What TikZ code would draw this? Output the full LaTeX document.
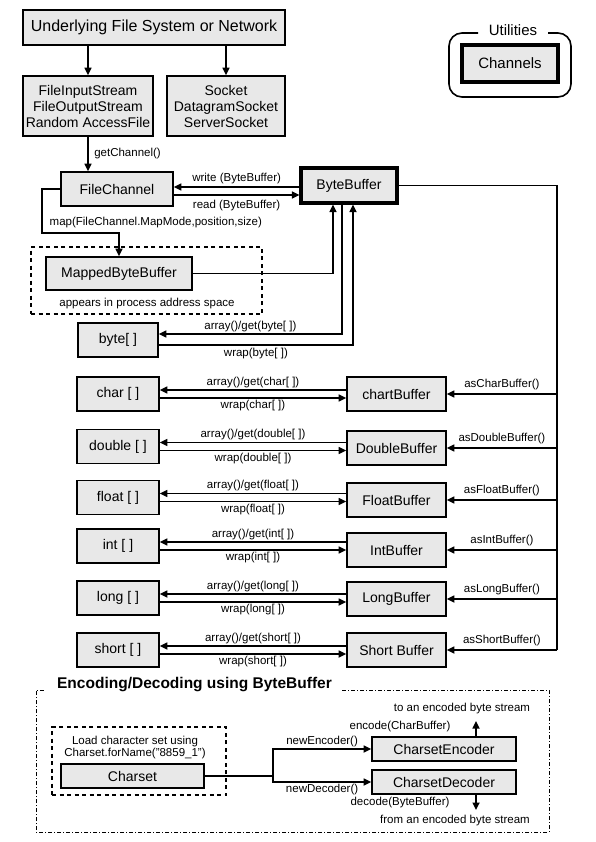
\documentclass[tikz,border=0pt]{standalone}
\usepackage{fontspec}
\setmainfont{Liberation Sans}
\usetikzlibrary{arrows.meta,calc}

\begin{document}
\begin{tikzpicture}[x=1pt, y=-1pt, >={Triangle[length=7.5pt,width=7pt]},
  box/.style = {draw, line width=1.6pt, fill=black!9, inner sep=0pt, align=center, font=\fontsize{14}{16}\selectfont},
  heavy/.style = {box, line width=3.2pt},
  lbl/.style = {font=\fontsize{11.5}{13}\selectfont, inner sep=1.5pt},
  link/.style = {line width=1.6pt},
  dashbox/.style = {draw, line width=1.6pt, dash pattern=on 4pt off 3.5pt}]
\useasboundingbox (0,0) rectangle (595,842);

% sources
\node[box, minimum width=262pt, minimum height=35pt, font=\fontsize{16}{18}\selectfont] (fs) at (154,27.5) {Underlying File System or Network};
\node[box, minimum width=130pt, minimum height=60pt] (streams) at (88,106) {FileInputStream\\FileOutputStream\\Random AccessFile};
\node[box, minimum width=118pt, minimum height=60pt] (sockets) at (226,106) {Socket\\DatagramSocket\\ServerSocket};
\draw[link, ->] (fs.south -| streams.north) -- (streams.north);
\draw[link, ->] (fs.south -| sockets.north) -- (sockets.north);

% channel and buffer
\node[box, minimum width=112pt, minimum height=34pt] (fc) at (117,189) {FileChannel};
\node[heavy, minimum width=96pt, minimum height=35pt] (bb) at (349,185.5) {ByteBuffer};
\draw[link, ->] (streams.south) -- (streams.south |- fc.north) node[lbl, midway, right=4pt] {getChannel()};
\draw[link, ->] ($(bb.west)+(0,1.5)$) -- ($(fc.east |- bb.west)+(0,1.5)$) node[lbl, midway, above=1pt] {write (ByteBuffer)};
\draw[link, ->] ($(fc.east |- bb.west)+(0,9.5)$) -- ($(bb.west)+(0,9.5)$) node[lbl, midway, below=3pt] {read (ByteBuffer)};

% mapped buffer
\node[dashbox, minimum width=231pt, minimum height=67pt] (space) at (146.5,280.5) {};
\node[lbl] (spacenote) at (147,304) {appears in process address space};
\node[box, minimum width=146pt, minimum height=33pt] (mbb) at (119,273.5) {MappedByteBuffer};
\coordinate (mapturn) at (42,233);
\draw[link, ->] (fc.west) -| (mapturn) -| (mbb.north);
\node[lbl, anchor=west] (maplbl) at (48,223) {map(FileChannel.MapMode,position,size)};
\draw[link, ->] (mbb.east) -| ($(bb.south)+(-16,0)$);

% byte array
\node[box, minimum width=80pt, minimum height=34pt] (byte) at (118,340) {byte[ ]};
\draw[link, ->] ($(bb.south)+(-7,0)$) |- ($(byte.east)+(0,-6)$) node[lbl, pos=0.75, above] {array()/get(byte[ ])};
\draw[link, ->] ($(byte.east)+(0,5)$) -| ($(bb.south)+(4,0)$) node[lbl, pos=0.25, below=1pt] {wrap(byte[ ])};

% view buffers
\coordinate (bus) at (557,650);
\draw[link] (bb.east) -| (bus);
\foreach \nm/\arr/\buf/\ya/\yb/\as in {char/char [ ]/chartBuffer/394/394/asCharBuffer(),
    double/double [ ]/DoubleBuffer/446.5/448/asDoubleBuffer(),
    float/float [ ]/FloatBuffer/497.5/500/asFloatBuffer(),
    int/int [ ]/IntBuffer/546/550/asIntBuffer(),
    long/long [ ]/LongBuffer/598/599/asLongBuffer(),
    short/short [ ]/Short Buffer/650/650/asShortBuffer()} {
  \node[box, minimum width=82pt, minimum height=34pt] (a\nm) at (118,\ya) {\arr};
  \node[box, minimum width=99pt, minimum height=34pt] (b\nm) at (396.5,\yb) {\buf};
  \draw[link, ->] ($(b\nm.west |- a\nm.east)+(0,-4)$) -- ($(a\nm.east)+(0,-4)$) node[lbl, midway, above] {array()/get(\nm[ ])};
  \draw[link, ->] ($(a\nm.east)+(0,4)$) -- ($(b\nm.west |- a\nm.east)+(0,4)$) node[lbl, midway, below] {wrap(\nm[ ])};
  \draw[link, ->] (bus |- b\nm.east) -- (b\nm.east) node[lbl, midway, above=2pt] {\as};
}

% legend
\draw[line width=1.6pt, rounded corners=13pt] (478,33) -- (449,33) -- (449,97) -- (571,97) -- (571,33) -- (548,33);
\node[font=\fontsize{15}{17}\selectfont] (util) at (513,30) {Utilities};
\node[heavy, minimum width=96pt, minimum height=37pt, font=\fontsize{15}{17}\selectfont] (channels) at (510,63.5) {Channels};

% encoding / decoding
\draw[line width=0.8pt, dash pattern=on 4pt off 2pt on 1pt off 2pt] (342,690) -- (549,690) -- (549,832) -- (36,832) -- (36,690) -- (44,690);
\node[anchor=base, font=\bfseries\fontsize{15.5}{18}\selectfont] (enctitle) at (194.5,688) {Encoding/Decoding using ByteBuffer};
\node[dashbox, minimum width=174pt, minimum height=68pt] (load) at (139,761) {};
\node[lbl, align=center, font=\fontsize{11.5}{11.5}\selectfont] (loadnote) at (135,747.5) {Load character set using\\Charset.forName("8859\_1")};
\node[box, minimum width=143pt, minimum height=24pt] (cs) at (132.5,776) {Charset};
\node[box, minimum width=144pt, minimum height=24pt] (enc) at (444,749) {CharsetEncoder};
\node[box, minimum width=144pt, minimum height=24pt] (dec) at (444,782) {CharsetDecoder};
\coordinate (split) at (273,776);
\draw[link] (cs.east) -- (split);
\draw[link, ->] (split) |- (enc.west) node[lbl, pos=0.75, above] {newEncoder()};
\draw[link, ->] (split) |- (dec.west) node[lbl, pos=0.75, below] {newDecoder()};
\coordinate (encout) at (476,721);
\coordinate (decout) at (476,810);
\draw[link, ->] (enc.north -| encout) -- (encout);
\draw[link, ->] (dec.south -| decout) -- (decout);
\node[lbl] (encnote) at (400,727) {encode(CharBuffer)};
\node[lbl] (tostream) at (462,709) {to an encoded byte stream};
\node[lbl] (decnote) at (400,803) {decode(ByteBuffer)};
\node[lbl] (fromstream) at (455,821) {from an encoded byte stream};

\end{tikzpicture}
\end{document}
